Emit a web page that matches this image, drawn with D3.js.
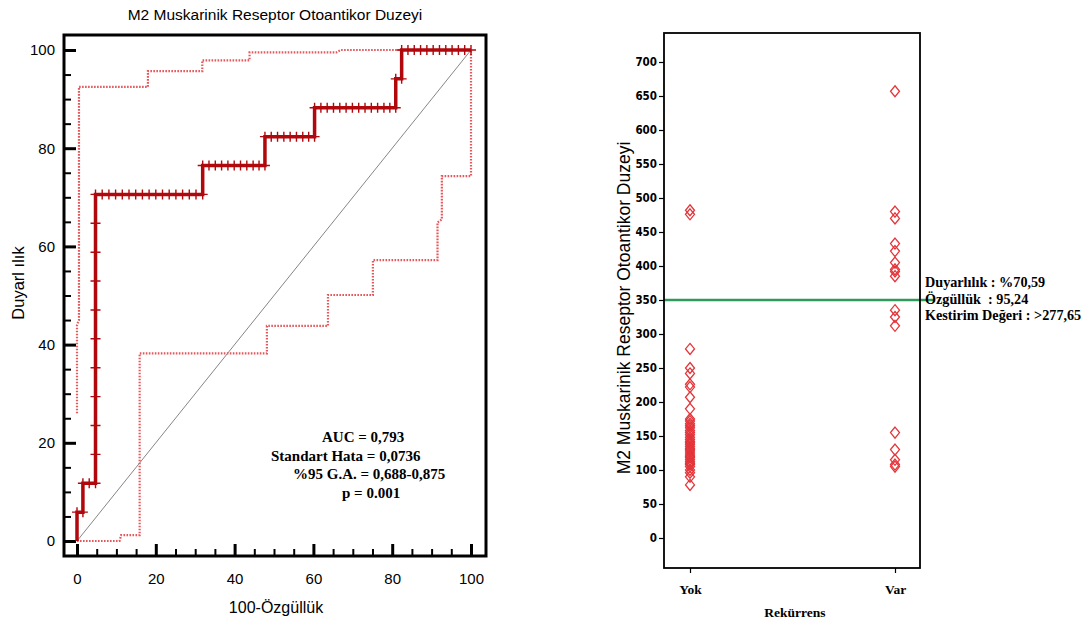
<!DOCTYPE html>
<html>
<head>
<meta charset="utf-8">
<script src="https://cdn.jsdelivr.net/npm/d3@7"></script>
<style>
  body { margin: 0; background: #fff; }
  svg { display: block; }
</style>
</head>
<body>
<div id="chart"></div>
<script>
// ROC curve points (100-specificity, sensitivity)
var rocFpr = [0, 0, 1.5, 1.5, 3.1, 4.7, 4.7, 4.7, 4.7, 4.7, 4.7, 4.7, 4.7, 4.7, 4.7, 4.7,
  6.4, 8.1, 9.8, 11.5, 13.2, 14.9, 16.6, 18.3, 20.0, 21.7, 23.4, 25.1, 26.8, 28.5, 30.2, 31.9,
  31.9, 33.5, 35.1, 36.7, 38.3, 39.9, 41.5, 43.1, 44.7, 46.2, 47.7,
  47.7, 49.3, 50.9, 52.5, 54.1, 55.7, 57.3, 58.8, 60.3,
  60.3, 61.9, 63.5, 65.1, 66.7, 68.3, 69.9, 71.5, 73.1, 74.7, 76.3, 77.9, 79.4, 80.9,
  80.9, 82.4, 82.4, 84.0, 85.6, 87.2, 88.8, 90.4, 92.0, 93.6, 95.2, 96.8, 98.4, 100];
var rocTpr = [0, 5.88, 5.88, 11.76, 11.76, 11.76, 17.65, 23.53, 29.41, 35.29, 41.18, 47.06, 52.94, 58.82, 64.71, 70.59,
  70.59, 70.59, 70.59, 70.59, 70.59, 70.59, 70.59, 70.59, 70.59, 70.59, 70.59, 70.59, 70.59, 70.59, 70.59, 70.59,
  76.47, 76.47, 76.47, 76.47, 76.47, 76.47, 76.47, 76.47, 76.47, 76.47, 76.47,
  82.35, 82.35, 82.35, 82.35, 82.35, 82.35, 82.35, 82.35, 82.35,
  88.24, 88.24, 88.24, 88.24, 88.24, 88.24, 88.24, 88.24, 88.24, 88.24, 88.24, 88.24, 88.24, 88.24,
  94.12, 94.12, 100, 100, 100, 100, 100, 100, 100, 100, 100, 100, 100, 100];

// 95% confidence bounds
var ciUpperX = [0, 0, 0.5, 0.5, 18.0, 18.0, 31.8, 31.8, 43.8, 43.8, 65.8, 67.0, 100];
var ciUpperY = [26, 44, 45, 92.5, 92.5, 95.7, 95.7, 97.9, 97.9, 99.5, 99.5, 100, 100];
var ciLowerX = [0, 10.8, 11.2, 15.9, 15.9, 48.2, 48.2, 63.7, 63.7, 75.1, 75.1, 91.5, 91.5, 92.6, 92.6, 100, 100];
var ciLowerY = [0, 0, 1.2, 1.2, 38.2, 38.2, 43.8, 43.8, 50.1, 50.1, 57.2, 57.2, 64.9, 65.5, 74.3, 74.3, 100];

var rocTicks = [0, 20, 40, 60, 80, 100];
var rocMinorTicks = [5, 10, 15, 25, 30, 35, 45, 50, 55, 65, 70, 75, 85, 90, 95];
var statLines = ["AUC = 0,793", "Standart Hata = 0,0736", "%95 G.A. = 0,688-0,875", "p = 0.001"];
var statX = [322, 271, 293, 342];

// scatter by group
var groups = ["Yok", "Var"];
var yokValues = [482, 476, 278, 250, 242, 226, 222, 207, 190, 175, 172, 168, 165, 162, 158, 155,
  152, 148, 145, 142, 140, 138, 135, 132, 130, 128, 125, 122, 120, 118, 115, 112, 110, 108,
  105, 100, 96, 90, 78];
var varValues = [657, 480, 470, 433, 422, 405, 395, 392, 385, 335, 325, 312, 155, 130, 115, 108, 105];
var levelTicks = [0, 50, 100, 150, 200, 250, 300, 350, 400, 450, 500, 550, 600, 650, 700];
var cutoff = 350;
var cutoffNotes = ["Duyarlılık : %70,59", "Özgüllük  : 95,24", "Kestirim Değeri : >277,65"];

var svg = d3.select("#chart").append("svg")
  .attr("width", 1091)
  .attr("height", 625);

svg.append("rect").attr("width", 1091).attr("height", 625).attr("fill", "#fff");

// ---------- left: ROC ----------
var x = d3.scaleLinear().domain([0, 100]).range([77, 471]);
var y = d3.scaleLinear().domain([0, 100]).range([541, 50]);
var sans = "'Liberation Sans', Arial, sans-serif";
var serif = "'Liberation Serif', 'Times New Roman', serif";

svg.append("text")
  .attr("x", 275).attr("y", 20)
  .attr("text-anchor", "middle")
  .style("font-family", sans).style("font-size", "15.5px")
  .text("M2 Muskarinik Reseptor Otoantikor Duzeyi");

// y axis (ticks pointing inward)
var yMinor = svg.append("g").attr("transform", "translate(64,0)")
  .call(d3.axisLeft(y).tickValues(rocMinorTicks).tickFormat("").tickSizeInner(-7).tickSizeOuter(0));
yMinor.select(".domain").remove();
yMinor.selectAll("line").attr("stroke", "#000").attr("stroke-width", 2);

var yAxis = svg.append("g").attr("transform", "translate(64,0)")
  .call(d3.axisLeft(y).tickValues(rocTicks).tickSizeInner(-12).tickSizeOuter(0).tickPadding(9));
yAxis.select(".domain").remove();
yAxis.selectAll("line").attr("stroke", "#000").attr("stroke-width", 3);
yAxis.selectAll("text").style("font-family", sans).style("font-size", "15px");

var xMinor = svg.append("g").attr("transform", "translate(0,556)")
  .call(d3.axisBottom(x).tickValues(rocMinorTicks).tickFormat("").tickSizeInner(-7).tickSizeOuter(0));
xMinor.select(".domain").remove();
xMinor.selectAll("line").attr("stroke", "#000").attr("stroke-width", 2);

var xAxis = svg.append("g").attr("transform", "translate(0,556)")
  .call(d3.axisBottom(x).tickValues(rocTicks).tickSizeInner(-12).tickSizeOuter(0).tickPadding(17));
xAxis.select(".domain").remove();
xAxis.selectAll("line").attr("stroke", "#000").attr("stroke-width", 3);
xAxis.selectAll("text").style("font-family", sans).style("font-size", "15px");

svg.append("text")
  .attr("x", 276).attr("y", 613)
  .attr("text-anchor", "middle")
  .style("font-family", sans).style("font-size", "16px")
  .text("100-Özgüllük");

svg.append("text")
  .attr("transform", "translate(24,283) rotate(-90)")
  .attr("text-anchor", "middle")
  .style("font-family", sans).style("font-size", "16.5px")
  .text("Duyarl ılık");

// diagonal
svg.append("line")
  .attr("x1", x(0)).attr("y1", y(0)).attr("x2", x(100)).attr("y2", y(100))
  .attr("stroke", "#666").attr("stroke-width", 0.8);

var line = d3.line().x(d => x(d[0])).y(d => y(d[1]));

function pairs(a, b) { return a.map((v, i) => [v, b[i]]); }

[pairs(ciUpperX, ciUpperY), pairs(ciLowerX, ciLowerY)].forEach(function (pts) {
  svg.append("path")
    .attr("d", line(pts))
    .attr("fill", "none")
    .attr("stroke", "#e4575b")
    .attr("stroke-width", 2.2)
    .attr("stroke-dasharray", "1.6,1.4");
});

var roc = pairs(rocFpr, rocTpr);
svg.append("path")
  .attr("d", line(roc))
  .attr("fill", "none")
  .attr("stroke", "#b0080c")
  .attr("stroke-width", 3.5)
  .attr("stroke-linejoin", "miter");

svg.selectAll(".mark")
  .data(roc.slice(1))
  .enter().append("path")
  .attr("class", "mark")
  .attr("transform", d => "translate(" + x(d[0]) + "," + y(d[1]) + ")")
  .attr("d", "M-5,0H5M0,-5V5")
  .attr("stroke", "#b0080c")
  .attr("stroke-width", 1.4);

// frame
svg.append("rect")
  .attr("x", 64).attr("y", 35).attr("width", 422).attr("height", 521)
  .attr("fill", "none").attr("stroke", "#000").attr("stroke-width", 3);

svg.selectAll(".stat")
  .data(statLines)
  .enter().append("text")
  .attr("class", "stat")
  .attr("x", (d, i) => statX[i])
  .attr("y", (d, i) => 442 + i * 18.5)
  .style("font-family", serif).style("font-weight", "bold").style("font-size", "15px")
  .text(d => d);

// ---------- right: scatter ----------
var gx = d3.scalePoint().domain(groups).range([690, 895]);
var gy = d3.scaleLinear().domain([0, 700]).range([538, 62]);
var narrow = "'Liberation Sans Narrow', 'DejaVu Sans Condensed', Arial, sans-serif";

var gyAxis = svg.append("g").attr("transform", "translate(664,0)")
  .call(d3.axisLeft(gy).tickValues(levelTicks).tickSizeInner(5).tickSizeOuter(0).tickPadding(2));
gyAxis.select(".domain").remove();
gyAxis.selectAll("line").attr("stroke", "#000").attr("stroke-width", 1.2);
gyAxis.selectAll("text").style("font-family", narrow).style("font-weight", "bold").style("font-size", "11.5px");

var gxAxis = svg.append("g").attr("transform", "translate(0,568)")
  .call(d3.axisBottom(gx).tickSizeInner(5).tickSizeOuter(0).tickPadding(11));
gxAxis.select(".domain").remove();
gxAxis.selectAll("line").attr("stroke", "#000").attr("stroke-width", 1.2);
gxAxis.selectAll("text").style("font-family", serif).style("font-weight", "bold").style("font-size", "13.5px");

svg.append("text")
  .attr("x", 795).attr("y", 617)
  .attr("text-anchor", "middle")
  .style("font-family", serif).style("font-weight", "bold").style("font-size", "13.5px")
  .text("Rekürrens");

svg.append("text")
  .attr("transform", "translate(630,308) rotate(-90)")
  .attr("text-anchor", "middle")
  .style("font-family", sans).style("font-size", "17.5px")
  .text("M2 Muskarinik Reseptor Otoantikor Duzeyi");

var points = yokValues.map(v => ({ g: "Yok", v: v }))
  .concat(varValues.map(v => ({ g: "Var", v: v })));

svg.selectAll(".pt")
  .data(points)
  .enter().append("path")
  .attr("class", "pt")
  .attr("transform", d => "translate(" + gx(d.g) + "," + gy(d.v) + ")")
  .attr("d", "M0,-5.5L4.5,0L0,5.5L-4.5,0Z")
  .attr("fill", "none")
  .attr("stroke", "#e3353a")
  .attr("stroke-width", 1.3);

svg.append("line")
  .attr("x1", 664).attr("x2", 935)
  .attr("y1", gy(cutoff)).attr("y2", gy(cutoff))
  .attr("stroke", "#2f9a5c").attr("stroke-width", 2.5);

svg.append("rect")
  .attr("x", 664).attr("y", 33).attr("width", 256).attr("height", 535)
  .attr("fill", "none").attr("stroke", "#000").attr("stroke-width", 1.8);

svg.selectAll(".note")
  .data(cutoffNotes)
  .enter().append("text")
  .attr("class", "note")
  .attr("x", 925)
  .attr("y", (d, i) => 287 + i * 16.5)
  .attr("xml:space", "preserve")
  .style("white-space", "pre")
  .style("font-family", serif).style("font-weight", "bold").style("font-size", "14.2px")
  .text(d => d);
</script>
</body>
</html>
